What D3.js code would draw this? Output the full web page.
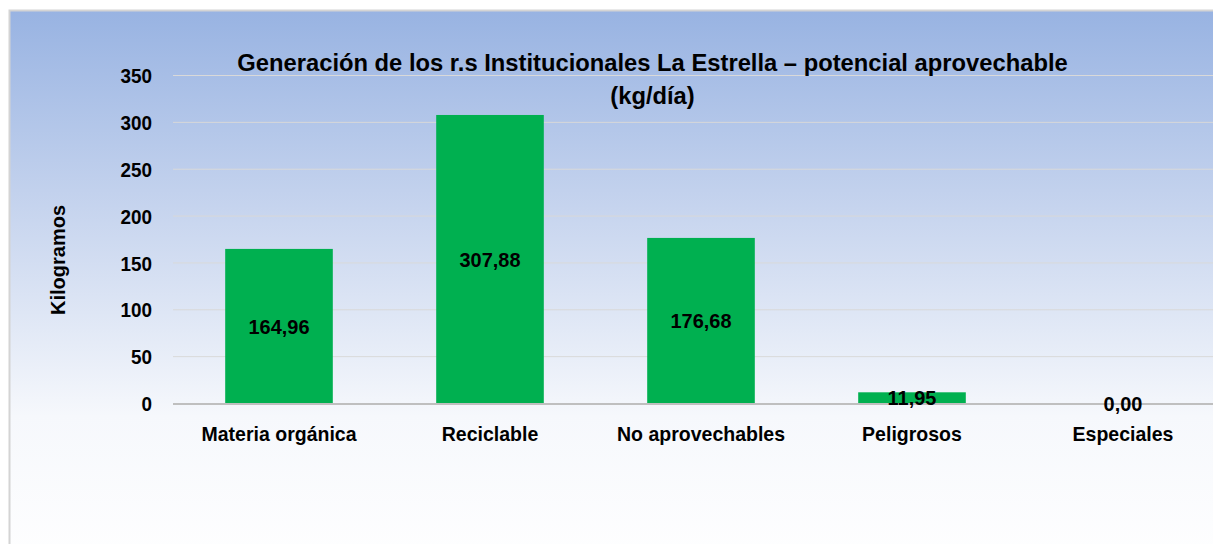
<!DOCTYPE html>
<html>
<head>
<meta charset="utf-8">
<script src="https://cdn.jsdelivr.net/npm/d3@7"></script>
<style>
  html, body { margin: 0; padding: 0; background: #ffffff; }
  svg { display: block; }
  text { font-family: "Liberation Sans", Arial, sans-serif; font-weight: bold; fill: #000; }
</style>
</head>
<body>
<svg id="chart" width="1213" height="544"></svg>
<script>
// Residue categories and daily generation (kg/día)
const categories = ["Materia orgánica", "Reciclable", "No aprovechables", "Peligrosos", "Especiales"];
const values = [164.96, 307.88, 176.68, 11.95, 0.00];
const yTicks = [0, 50, 100, 150, 200, 250, 300, 350];
const titleLines = ["Generación de los r.s Institucionales La Estrella – potencial aprovechable", "(kg/día)"];
const yTitle = "Kilogramos";

const W = 1213, H = 544;
const svg = d3.select("#chart");

// Condensed bold text: a regular bold face squeezed horizontally
function narrowText(sel, size, squeeze) {
  return sel
    .style("font-size", size + "px")
    .attr("x", 0).attr("y", 0)
    .attr("transform", function () {
      const p = this.__pos;
      return `translate(${p[0]},${p[1]}) scale(${squeeze},1)`;
    });
}

// Background panel with vertical blue-to-white gradient
const defs = svg.append("defs");
const grad = defs.append("linearGradient")
  .attr("id", "bg").attr("x1", 0).attr("y1", 0).attr("x2", 0).attr("y2", 1);
grad.append("stop").attr("offset", "0%").attr("stop-color", "#98b3e2");
grad.append("stop").attr("offset", "35%").attr("stop-color", "#c6d4ee");
grad.append("stop").attr("offset", "72%").attr("stop-color", "#f6f8fc");
grad.append("stop").attr("offset", "100%").attr("stop-color", "#ffffff");

svg.append("rect")
  .attr("x", 9.5).attr("y", 10.5)
  .attr("width", W + 20).attr("height", H + 20)
  .attr("fill", "url(#bg)")
  .attr("stroke", "#d4d4d4").attr("stroke-width", 2);

// Scales
const x = d3.scaleBand()
  .domain(categories)
  .range([173.5, 1228.5])
  .paddingInner(0.49)
  .paddingOuter(0.245);

const y = d3.scaleLinear()
  .domain([0, 350])
  .range([403.5, 75.5]);

// Gridlines
svg.append("g")
  .selectAll("line")
  .data(yTicks.filter(d => d > 0))
  .join("line")
  .attr("x1", 173).attr("x2", W)
  .attr("y1", d => y(d)).attr("y2", d => y(d))
  .attr("stroke", "#d9d9d9").attr("stroke-width", 1);

// Y tick labels
svg.append("g")
  .selectAll("text")
  .data(yTicks)
  .join("text")
  .each(function (d) { this.__pos = [152, y(d)]; })
  .attr("text-anchor", "end")
  .attr("dy", "0.36em")
  .text(d3.format("d"))
  .call(narrowText, 21, 0.9);

// Bars
svg.append("g")
  .selectAll("rect")
  .data(values)
  .join("rect")
  .attr("x", (d, i) => x(categories[i]))
  .attr("width", x.bandwidth())
  .attr("y", d => y(d))
  .attr("height", d => y(0) - y(d))
  .attr("fill", "#00b050");

// Category axis line
svg.append("line")
  .attr("x1", 173).attr("x2", W)
  .attr("y1", y(0) + 0.5).attr("y2", y(0) + 0.5)
  .attr("stroke", "#bfbfbf").attr("stroke-width", 2);

// Category labels
svg.append("g")
  .selectAll("text")
  .data(categories)
  .join("text")
  .each(function (d) { this.__pos = [x(d) + x.bandwidth() / 2, y(0) + 37]; })
  .attr("text-anchor", "middle")
  .text(d => d)
  .call(narrowText, 21, 0.93);

// Value labels, centred in each bar
const fmt = v => d3.format(".2f")(v).replace(".", ",");
svg.append("g")
  .selectAll("text")
  .data(values)
  .join("text")
  .each(function (d, i) { this.__pos = [x(categories[i]) + x.bandwidth() / 2, (y(d) + y(0)) / 2]; })
  .attr("dy", "0.36em")
  .attr("text-anchor", "middle")
  .text(fmt)
  .call(narrowText, 21, 0.95);

// Title
svg.append("g")
  .selectAll("text")
  .data(titleLines)
  .join("text")
  .each(function (d, i) { this.__pos = [652.5, 71 + i * 33]; })
  .attr("text-anchor", "middle")
  .text(d => d)
  .call(narrowText, 24, 0.99);

// Y axis title
svg.append("text")
  .attr("transform", "translate(65,260) rotate(-90)")
  .attr("text-anchor", "middle")
  .style("font-size", "20px")
  .text(yTitle);
</script>
</body>
</html>
